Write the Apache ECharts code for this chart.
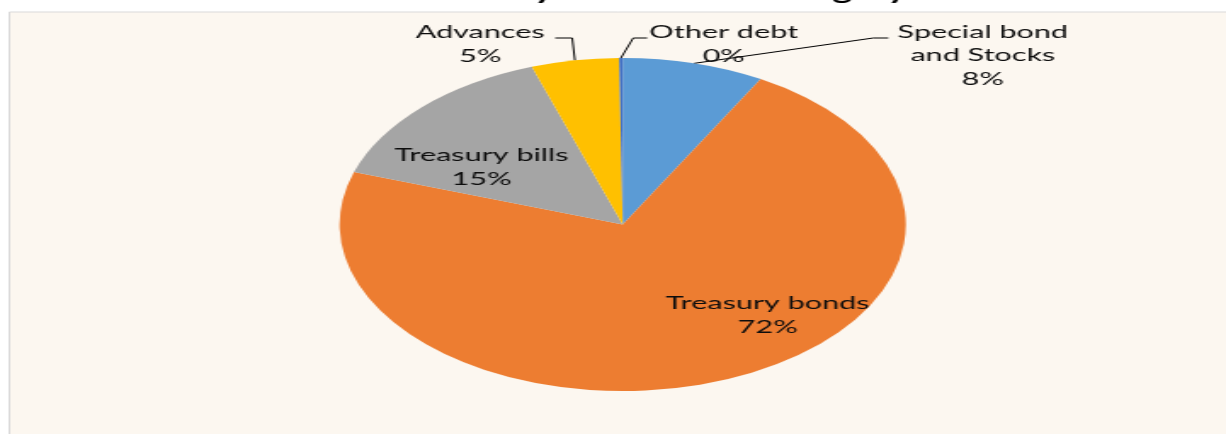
<!DOCTYPE html>
<html>
<head>
<meta charset="utf-8">
<script src="https://cdn.jsdelivr.net/npm/echarts@6/dist/echarts.min.js"></script>
<style>
  html, body { margin: 0; padding: 0; background: #fff; overflow: hidden; }
  /* the reference is a circular excel pie stretched sideways, so draw narrow and stretch */
  #chart { width: 721px; height: 434px; transform: scaleX(1.7004); transform-origin: 0 0; }
</style>
</head>
<body>
<div id="chart"></div>
<script>
const categories = ['Special bond\nand Stocks', 'Treasury bonds', 'Treasury bills', 'Advances', 'Other debt'];
const shares = [8.1, 72.0, 14.7, 5.0, 0.2];
const colors = ['#5b9bd5', '#ed7d31', '#a5a5a5', '#ffc000', '#4472c4'];
const insideLabels = ['Treasury bonds', 'Treasury bills'];

// label spots in unstretched px: [x, y, bendX, bendY, endX]
const labelSpots = {
  'Special bond\nand Stocks': [578, 55.5, 513.5, 38, 522.4],
  'Treasury bonds': [451.5, 315],
  'Treasury bills': [283.2, 167],
  'Advances': [282.4, 44, 336.5, 38, 326.5],
  'Other debt': [425.6, 44, 372.4, 38, 380.6]
};

const chart = echarts.init(document.getElementById('chart'));

const pieData = categories.map((name, i) => ({
  name: name,
  value: shares[i],
  itemStyle: { color: colors[i] },
  label: { position: insideLabels.includes(name) ? 'inside' : 'outside' },
  labelLine: { show: !insideLabels.includes(name) }
}));

chart.setOption({
  animation: false,
  title: {
    text: 'Debt Stock by Instrument Category',
    left: 'center',
    top: -24,
    textStyle: { fontFamily: 'Lato', fontSize: 22, fontWeight: 'bold', color: '#000' }
  },
  graphic: [{
    type: 'rect',
    left: 5,
    top: 11.5,
    z: -10,
    shape: { width: 740, height: 440 },
    style: { fill: '#fcf7f0', stroke: '#d9d9d9', lineWidth: 1 }
  }],
  series: [{
    type: 'pie',
    center: [366.2, 224.5],
    radius: 166.5,
    startAngle: 90,
    clockwise: true,
    avoidLabelOverlap: false,
    data: pieData,
    itemStyle: { borderWidth: 0 },
    label: {
      fontFamily: 'Lato',
      fontSize: 18,
      lineHeight: 23.5,
      color: '#0d0d0d',
      align: 'center',
      formatter: p => p.name + '\n' + Math.round(p.percent) + '%'
    },
    labelLine: { lineStyle: { color: '#000', width: 1 } },
    labelLayout: function (params) {
      const name = categories[params.dataIndex];
      const s = labelSpots[name];
      const out = { x: s[0], y: s[1], align: 'center', verticalAlign: 'middle' };
      if (s.length > 2 && params.labelLinePoints) {
        out.labelLinePoints = [params.labelLinePoints[0], [s[2], s[3]], [s[4], s[3]]];
      }
      return out;
    }
  }]
});
</script>
</body>
</html>
